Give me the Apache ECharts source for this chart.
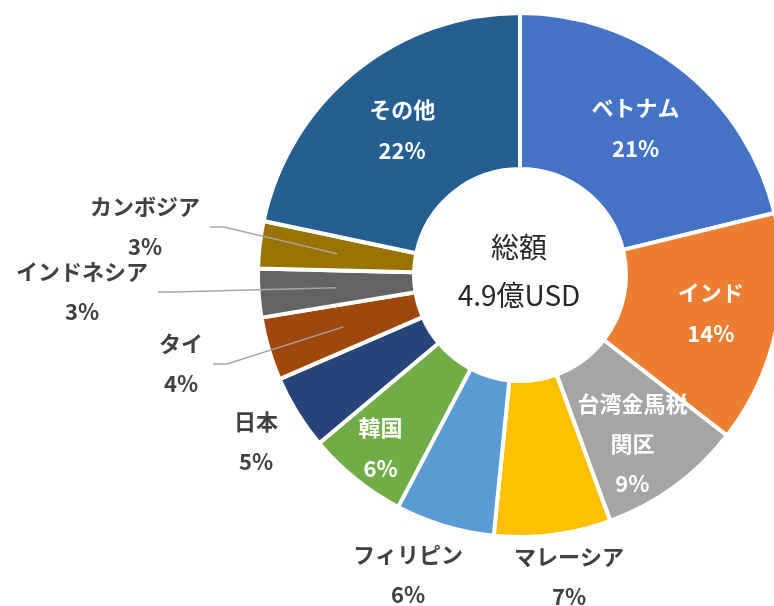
<!DOCTYPE html>
<html>
<head>
<meta charset="utf-8">
<script src="https://cdn.jsdelivr.net/npm/echarts@6/dist/echarts.min.js"></script>
<style>
  html, body { margin: 0; padding: 0; background: #fff; }
  #chart { width: 774px; height: 606px; }
</style>
</head>
<body>
<div id="chart"></div>
<script>
// データ（構成比 %、表示は整数に丸め）
var names = ['ベトナム', 'インド', '台湾金馬税関区', 'マレーシア', 'フィリピン', '韓国', '日本', 'タイ', 'インドネシア', 'カンボジア', 'その他'];
var shares = [21.2, 14.3, 8.9, 7.2, 6.1, 6.2, 4.6, 3.9, 3.0, 2.9, 21.7];
var colors = ['#4472C4', '#ED7D31', '#A5A5A5', '#FFC000', '#5B9BD5', '#70AD47', '#264478', '#9E480E', '#636363', '#997300', '#255E91'];
var totalText = '総額\n4.9億USD';

var FONT = '"Noto Sans CJK JP", "Noto Sans", sans-serif';
var CX = 520, CY = 275, R0 = 106, R = 262;

// 内側ラベルの微調整
var insideOffset = {
  'インド': [8, -1],
  '台湾金馬税関区': [2, 18],
  '韓国': [-22, 28]
};
// 外側ラベルの位置（ラベルブロック中心）
var outsidePos = {
  'マレーシア': [569, 577],
  'フィリピン': [408, 575],
  '日本': [256, 442],
  'タイ': [181, 364],
  'インドネシア': [82, 292],
  'カンボジア': [145, 227]
};
var withLine = ['タイ', 'インドネシア', 'カンボジア'];

var total = shares.reduce(function (a, b) { return a + b; }, 0);
function midPoint(i, r) {
  var cum = 0;
  for (var k = 0; k < i; k++) cum += shares[k];
  var a = -Math.PI / 2 + 2 * Math.PI * (cum + shares[i] / 2) / total;
  return [CX + r * Math.cos(a), CY + r * Math.sin(a)];
}

// 本体（扇形＋内側ラベル）
var mainData = names.map(function (n, i) {
  var item = { name: n, value: shares[i], itemStyle: { color: colors[i] } };
  if (outsidePos[n]) {
    item.label = { show: false };
  } else if (insideOffset[n]) {
    item.label = { offset: insideOffset[n] };
  }
  if (n === '台湾金馬税関区') {
    item.label.formatter = '台湾金馬税\n関区\n{d}%';
    item.label.lineHeight = 40;
  }
  return item;
});

// 重ね用（透明な扇形＋外側ラベルと引出線）
var outerData = names.map(function (n, i) {
  var item = { name: n, value: shares[i] };
  if (outsidePos[n]) {
    item.label = { show: true };
    item.labelLine = { show: withLine.indexOf(n) >= 0 };
  } else {
    item.label = { show: false };
    item.labelLine = { show: false };
  }
  return item;
});

var myChart = echarts.init(document.getElementById('chart'));
var option = {
  animation: false,
  graphic: [{
    type: 'text',
    style: {
      text: totalText,
      x: CX - 1, y: CY - 4,
      align: 'center',
      verticalAlign: 'middle',
      font: '28px ' + FONT,
      lineHeight: 48,
      fill: '#262626'
    }
  }],
  series: [{
    type: 'pie',
    z: 2,
    center: [CX, CY],
    radius: [R0, R],
    startAngle: 90,
    clockwise: true,
    percentPrecision: 0,
    avoidLabelOverlap: false,
    silent: true,
    itemStyle: { borderColor: '#fff', borderWidth: 4 },
    label: {
      show: true,
      position: 'inside',
      formatter: '{b}\n{d}%',
      fontFamily: FONT,
      fontSize: 22,
      fontWeight: 'bold',
      color: '#fff',
      lineHeight: 41
    },
    labelLine: { show: false },
    data: mainData
  }, {
    type: 'pie',
    z: 4,
    center: [CX, CY],
    radius: [R0, R],
    startAngle: 90,
    clockwise: true,
    percentPrecision: 0,
    avoidLabelOverlap: false,
    silent: true,
    itemStyle: { color: 'rgba(0,0,0,0)', borderWidth: 0 },
    label: {
      show: true,
      position: 'outside',
      formatter: '{b}\n{d}%',
      fontFamily: FONT,
      fontSize: 22,
      fontWeight: 'bold',
      color: '#404040',
      lineHeight: 40
    },
    labelLine: {
      show: true,
      lineStyle: { color: '#A6A6A6', width: 1.5 }
    },
    labelLayout: function (params) {
      var n = names[params.dataIndex];
      var p = outsidePos[n];
      if (!p) return {};
      var res = { x: p[0], y: p[1], align: 'center', verticalAlign: 'middle' };
      if (withLine.indexOf(n) >= 0) {
        var endX = p[0] + params.labelRect.width / 2 + 10;
        var start = midPoint(params.dataIndex, (R0 + R) / 2);
        res.labelLinePoints = [[endX, p[1]], [endX + 14, p[1]], start];
      }
      return res;
    },
    data: outerData
  }]
};
myChart.setOption(option);
</script>
</body>
</html>
